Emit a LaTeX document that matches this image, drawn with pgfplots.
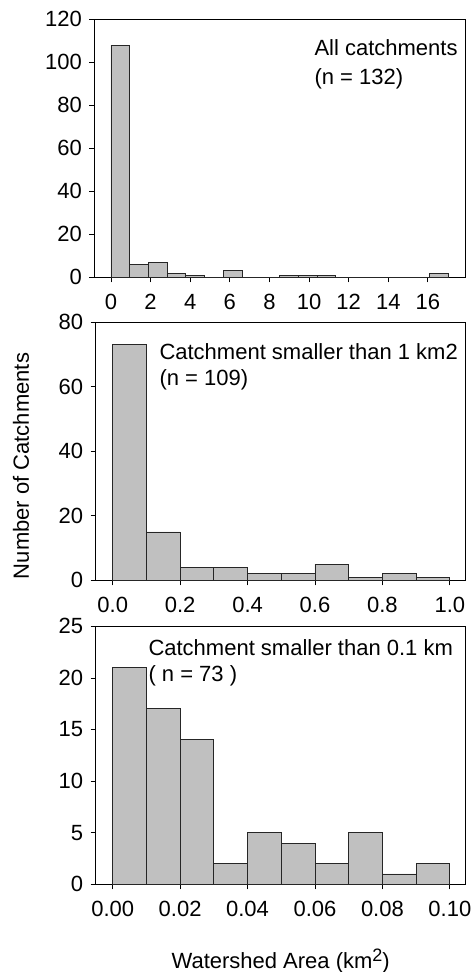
\documentclass[border=0pt]{standalone}
\usepackage{fontspec}
\setmainfont{Liberation Sans}
\usepackage{pgfplots}
\pgfplotsset{compat=1.18}
\definecolor{barfill}{RGB}{192,192,192}

\pgfplotsset{
  hist/.style={
    scale only axis, width=370pt, height=258pt,
    axis line style={line width=0.8pt, black},
    ymin=0,
    tick align=outside, xtick pos=bottom, ytick pos=left,
    major tick length=5pt,
    tick style={line width=0.8pt, black},
    ticklabel style={font=\fontsize{22}{26}\selectfont},
    xticklabel style={text height=16pt, text depth=0pt},
    /pgf/number format/assume math mode=true,
    xticklabel shift=8pt, yticklabel shift=4pt,
    ybar, bar shift=0pt,
  },
  histbar/.style={fill=barfill, draw=black!85, line width=0.8pt},
}

\begin{document}
\begin{tikzpicture}
\useasboundingbox (0,0) rectangle (472pt,-972pt);

% all catchments, bins of about 0.946 km2
\begin{axis}[hist, at={(94.3pt,-277.3pt)}, anchor=south west, width=371.4pt,
    xmin=-0.84, xmax=17.91, ymax=120, ytick={0,20,...,120},
    xtick={0,2,...,16}, bar width=0.946]
\addplot[histbar] coordinates {(0.473,108) (1.419,6) (2.365,7) (3.311,2) (4.257,1) (5.203,0)
  (6.149,3) (7.095,0) (8.041,0) (8.987,1) (9.933,1) (10.879,1) (11.825,0)
  (12.771,0) (13.717,0) (14.663,0) (15.609,0) (16.555,2)};
\end{axis}

% smaller than 1 km2
\begin{axis}[hist, at={(95.7pt,-580.3pt)}, anchor=south west,
    xmin=-0.0504, xmax=1.047, ymax=80, ytick={0,20,...,80},
    xtick={0,0.2,0.4,0.6,0.8,1.0}, bar width=0.1,
    xticklabel style={/pgf/number format/.cd, fixed, fixed zerofill, precision=1}]
\addplot[histbar] coordinates {(0.05,73) (0.15,15) (0.25,4) (0.35,4) (0.45,2) (0.55,2)
  (0.65,5) (0.75,1) (0.85,2) (0.95,1)};
\end{axis}

% smaller than 0.1 km2
\begin{axis}[hist, at={(95.7pt,-884.3pt)}, anchor=south west,
    xmin=-0.00504, xmax=0.1047, ymax=25, ytick={0,5,...,25},
    xtick={0,0.02,0.04,0.06,0.08,0.1}, bar width=0.01,
    xticklabel style={/pgf/number format/.cd, fixed, fixed zerofill, precision=2}]
\addplot[histbar] coordinates {(0.005,21) (0.015,17) (0.025,14) (0.035,2) (0.045,5) (0.055,4)
  (0.065,2) (0.075,5) (0.085,1) (0.095,2)};
\end{axis}

\begin{scope}[every node/.style={inner sep=0pt, font=\fontsize{22}{26}\selectfont}]
\node[anchor=base west] at (314.3pt,-55pt) {All catchments};
\node[anchor=base west] at (314.3pt,-84pt) {(n = 132)};
\node[anchor=base west] at (159.3pt,-359pt) {Catchment smaller than 1 km2};
\node[anchor=base west] at (159.3pt,-385pt) {(n = 109)};
\node[anchor=base west] at (148.3pt,-655.7pt) {Catchment smaller than 0.1 km};
\node[anchor=base west] at (148.3pt,-681.7pt) {( n = 73 )};
\node[anchor=base] at (280.7pt,-968pt) {Watershed Area (km\raisebox{7pt}{\fontsize{18}{18}\selectfont 2})};
\node[rotate=90] at (21pt,-466pt) {Number of Catchments};
\end{scope}
\end{tikzpicture}
\end{document}
